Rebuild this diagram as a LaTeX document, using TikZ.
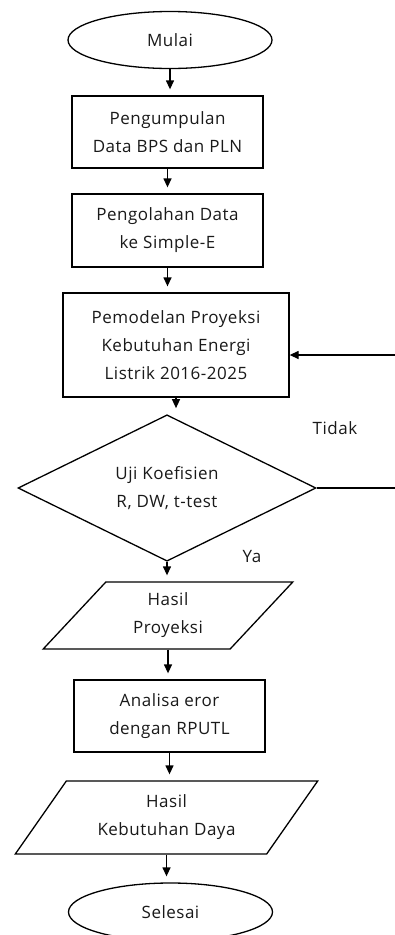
\documentclass[tikz,border=0pt]{standalone}
\usepackage{fontspec}
\setmainfont[LetterSpace=3]{Open Sans}
\usetikzlibrary{shapes.geometric,arrows.meta}
\tikzset{
  base/.style={draw=black, line width=1.3pt, align=center, text=black!90, inner sep=0pt,
    font=\fontsize{17}{28}\selectfont},
  term/.style={base, ellipse, minimum width=204pt, minimum height=57pt},
  proc/.style={base, rectangle, minimum width=191pt, minimum height=72pt},
  io/.style={base, trapezium, trapezium left angle=52, trapezium right angle=128,
    trapezium stretches=true},
  dec/.style={base, diamond, minimum width=298pt, minimum height=130pt},
  arr/.style={line width=1.3pt, -{Triangle[width=8pt,length=9pt]}, shorten >=6pt},
  lbl/.style={text=black!90, font=\fontsize{17}{28}\selectfont, inner sep=0pt}
}
\begin{document}
\begin{tikzpicture}[x=1pt,y=-1pt]
\useasboundingbox (0,0) rectangle (394,935);
\node[term] (mulai) at (170,40) {Mulai};
\node[proc] (p1) at (167.5,132) {Pengumpulan\\Data BPS dan PLN};
\node[proc, minimum height=73pt] (p2) at (167.5,230.5) {Pengolahan Data\\ke Simple-E};
\node[proc, minimum width=226pt, minimum height=104pt] (p3) at (176,345) {Pemodelan Proyeksi\\Kebutuhan Energi\\Listrik 2016-2025};
\node[dec] (uji) at (167,488) {Uji Koefisien\\R, DW, t-test};
\node[io, minimum width=250pt, minimum height=67pt] (h1) at (168,615.5) {Hasil\\Proyeksi};
\node[proc] (p4) at (169.5,716) {Analisa eror\\dengan RPUTL};
\node[io, minimum width=303pt, minimum height=73pt] (h2) at (166.5,817.5) {Hasil\\Kebutuhan Daya};
\node[term, minimum height=58pt] (selesai) at (170.5,912) {Selesai};
\node[lbl] (tidak) at (335,428) {Tidak};
\node[lbl] (ya) at (252,557) {Ya};
\coordinate (fb) at (400,355);
\draw[arr] (mulai.south) -- (mulai.south |- p1.north);
\draw[arr] (p1.south) -- (p1.south |- p2.north);
\draw[arr] (p2.south) -- (p2.south |- p3.north);
\draw[arr] (p3.south) -- (p3.south |- uji.north);
\draw[arr] (uji.south) -- (uji.south |- h1.north);
\draw[arr] (h1.south) -- (h1.south |- p4.north);
\draw[arr] (p4.south) -- (p4.south |- h2.north);
\draw[arr] (h2.south) -- (h2.south |- selesai.north);
\draw[line width=1.3pt, -{Triangle[width=8pt,length=9pt]}] (uji.east) -- (uji.east -| fb) -- (fb) -- (p3.east |- fb);
\end{tikzpicture}
\end{document}
